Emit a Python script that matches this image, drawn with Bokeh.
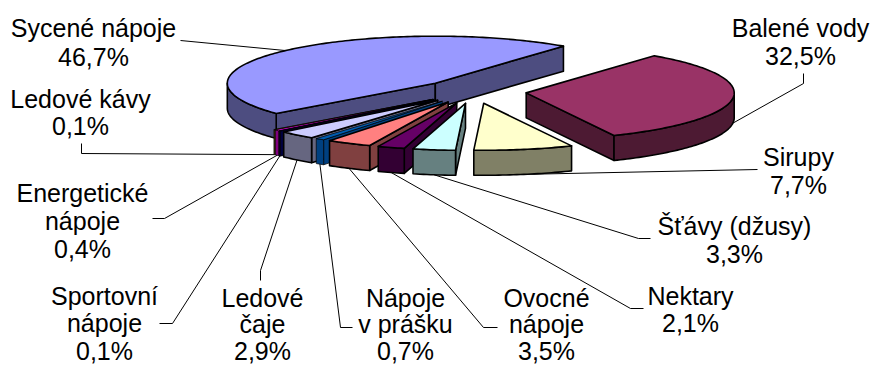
import math
from bokeh.plotting import figure
from bokeh.models import ColumnDataSource, Range1d
from bokeh.core.properties import value
from bokeh.embed import file_html
from bokeh.resources import INLINE

# --- data -------------------------------------------------------------
categories = ["Sycené nápoje", "Balené vody", "Sirupy", "Šťávy (džusy)", "Nektary",
              "Ovocné nápoje", "Nápoje v prášku", "Ledové čaje", "Sportovní nápoje",
              "Energetické nápoje", "Ledové kávy"]
shares = [46.7, 32.5, 7.7, 3.3, 2.1, 3.5, 0.7, 2.9, 0.1, 0.4, 0.1]
label_lines = [["Sycené nápoje"], ["Balené vody"], ["Sirupy"], ["Šťávy (džusy)"], ["Nektary"],
               ["Ovocné", "nápoje"], ["Nápoje", "v prášku"], ["Ledové", "čaje"],
               ["Sportovní", "nápoje"], ["Energetické", "nápoje"], ["Ledové kávy"]]

# --- style / layout ---------------------------------------------------
top_colors = ["#9999FF", "#993366", "#FFFFCC", "#CCFFFF", "#660066", "#FF8080",
              "#005CB0", "#CCCCFF", "#000080", "#FF00FF", "#FFFF00"]
side_colors = ["#4D4D80", "#4D1A33", "#808066", "#668080", "#330033", "#804040",
               "#004080", "#666680", "#000040", "#800080", "#808000"]
CX, CY, RX, RY, DEPTH, EXPLODE, START = 473.0, 91.0, 208.0, 47.0, 25.0, 0.255, -130.1
W, H = 876, 365
FONT_SIZE = "25px"
LINE_GAP = [29, 28.5, 28, 28, 27, 26.5, 26.5, 26.5, 27.5, 28, 27]
label_x = [93, 800, 798, 734, 690, 546, 405, 262, 104, 82, 80]
label_y = [27, 27, 156, 225, 295, 297, 297, 297, 295, 192, 98]
leader_route = [[(180, 40)], [(803, 73), (803, 83)], [(757, 169)], [(650, 238), (638, 238)],
                [(643, 308), (630, 308)], [(497, 327), (483, 327)], [(352, 327), (340, 327)],
                [(260, 280), (260, 270)], [(159, 323), (172, 323)], [(152, 218), (164, 218)],
                [(81, 143), (81, 153)]]


def pt(ox, oy, deg, dz=0.0):
    t = math.radians(deg)
    return ox + RX * math.sin(t), oy - RY * math.cos(t) + dz


total = sum(shares)
spans, a = [], START
for s in shares:
    spans.append((a, a + s / total * 360.0))
    a = spans[-1][1]

slices = []
for (a0, a1) in spans:
    mid = math.radians((a0 + a1) / 2)
    slices.append((CX + EXPLODE * RX * math.sin(mid), CY - EXPLODE * RY * math.cos(mid)))


def arc(ox, oy, a0, a1, dz=0.0):
    n = max(2, int(abs(a1 - a0)) + 2)
    return [pt(ox, oy, a0 + (a1 - a0) * i / (n - 1), dz) for i in range(n)]


xs, ys, fills, widths = [], [], [], []


def add(poly, color, lw):
    xs.append([q[0] for q in poly])
    ys.append([q[1] for q in poly])
    fills.append(color)
    widths.append(lw)


# back slice first, then from the left around to the front, then the right ones
order = [0] + list(range(len(shares) - 1, 0, -1))
for i in order:
    ox, oy = slices[i]
    a0, a1 = spans[i]
    apex = (ox, oy)
    lw = 0.7 if shares[i] < 1 else 1.6
    # radial walls facing the viewer
    if math.sin(math.radians(a0)) < 0:
        p0 = pt(ox, oy, a0)
        add([apex, p0, (p0[0], p0[1] + DEPTH), (ox, oy + DEPTH)], side_colors[i], lw)
    if math.sin(math.radians(a1)) > 0:
        p1 = pt(ox, oy, a1)
        add([apex, p1, (p1[0], p1[1] + DEPTH), (ox, oy + DEPTH)], side_colors[i], lw)
    # outer rim facing the viewer
    for k in (-360.0, 0.0):
        b0, b1 = max(a0, 90.0 + k), min(a1, 270.0 + k)
        if b1 > b0:
            add(arc(ox, oy, b0, b1) + arc(ox, oy, b1, b0, DEPTH), side_colors[i], lw)
    # top
    add([apex] + arc(ox, oy, a0, a1), top_colors[i], lw)

# leaders start on the slice rim at mid-angle
lx, ly = [], []
for i in range(len(shares)):
    ox, oy = slices[i]
    m = sum(spans[i]) / 2
    front = math.cos(math.radians(m)) < 0
    st = pt(ox, oy, m, DEPTH if front else 0.0)
    route = leader_route[i] + [st]
    lx.append([q[0] for q in route])
    ly.append([q[1] for q in route])

# labels
tx, ty, tt = [], [], []
for i in range(len(shares)):
    pct = f"{shares[i]:.1f}%".replace(".", ",")
    for j, line in enumerate(label_lines[i] + [pct]):
        tx.append(label_x[i])
        ty.append(label_y[i] + j * LINE_GAP[i])
        tt.append(line)

p = figure(width=W, height=H, output_backend="svg", toolbar_location=None,
           x_range=Range1d(0, W), y_range=Range1d(H, 0),
           min_border=0, outline_line_color=None, background_fill_color="white")
p.axis.visible = False
p.grid.visible = False

p.multi_line(lx, ly, line_color="black", line_width=1)
p.patches(xs, ys, fill_color=fills, line_color="black", line_width=widths, line_join="round")
p.text(x="x", y="y", text="t", source=ColumnDataSource(dict(x=tx, y=ty, t=tt)),
       text_font=value("Liberation Sans"), text_font_size=value(FONT_SIZE),
       text_color="black", text_align="center", text_baseline="middle")

open("out.html", "w").write(file_html(p, INLINE))
